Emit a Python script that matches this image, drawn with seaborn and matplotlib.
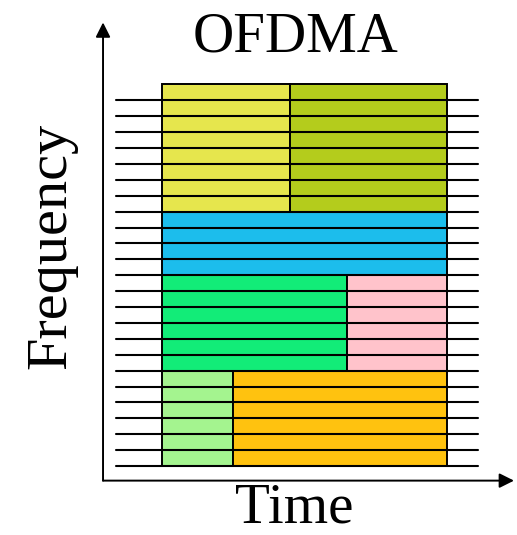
import matplotlib
matplotlib.use("Agg")
import matplotlib.pyplot as plt
import seaborn as sns
import pandas as pd

# --- resource blocks: time slots (0..20) x subcarriers (0..24) ---
users = ["U1", "U2", "U3", "U4", "U5", "U6", "U7"]
t_start = [0, 9, 0, 0, 13, 0, 5]
t_end = [9, 20, 20, 13, 20, 5, 20]
f_start = [16, 16, 12, 6, 6, 0, 0]
f_end = [24, 24, 16, 12, 12, 6, 6]
colors = ["#E6E64D", "#B4CC1C", "#1CBDEC", "#12EC78", "#FFC3CB", "#A4F48F", "#FFC20F"]

n_subcarriers = 24
total_time = 20

blocks = pd.DataFrame({
    "user": users, "t0": t_start, "t1": t_end,
    "f0": f_start, "f1": f_end, "color": colors,
})

sns.set_theme(style="white")
plt.rcParams["font.family"] = ["Liberation Serif", "DejaVu Serif"]

fig = plt.figure(figsize=(5.17, 5.35), dpi=100)
ax = fig.add_axes([0, 0, 1, 1])
ax.set_xlim(-11.37, 24.91)
ax.set_ylim(-4.34, 29.31)
ax.axis("off")

for _, b in blocks.iterrows():
    ax.barh(b["f0"], b["t1"] - b["t0"], left=b["t0"], height=b["f1"] - b["f0"],
            align="edge", color=b["color"], edgecolor="black", linewidth=1.4, zorder=2)

# subcarrier lines
for k in range(n_subcarriers):
    ax.plot([-3.23, 22.18], [k, k], color="black", lw=1.5, zorder=3)

# axis arrows
x0, y0 = -4.14, -0.92
arrow = dict(arrowstyle="-|>", mutation_scale=22, lw=1.4, color="black", shrinkA=0, shrinkB=0)
ax.annotate("", xy=(x0, 27.9), xytext=(x0, y0), arrowprops=arrow)
ax.annotate("", xy=(24.7, y0), xytext=(x0, y0), arrowprops=arrow)

ax.text(9.4, 26.04, "OFDMA", fontsize=41, ha="center", va="baseline", color="black")
ax.text(9.3, -4.28, "Time", fontsize=41, ha="center", va="bottom", color="black")
ax.text(-7.79, 13.87, "Frequency", fontsize=42, rotation=90, ha="center", va="center", color="black")

fig.savefig("out.png", dpi=100)
